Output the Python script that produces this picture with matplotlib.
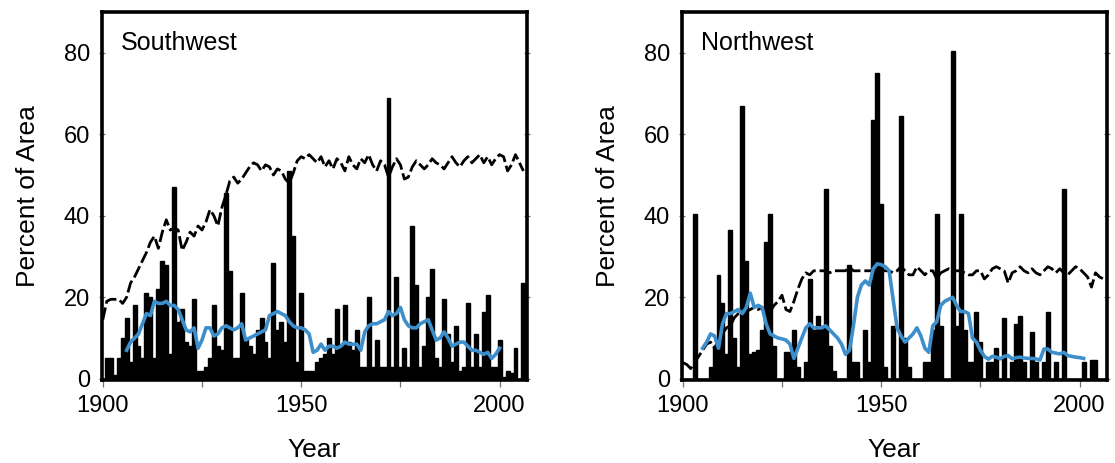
import numpy as np
import matplotlib
matplotlib.use("Agg")
import matplotlib.pyplot as plt
from matplotlib.ticker import MultipleLocator

plt.rcParams['font.family'] = ['Liberation Sans', 'DejaVu Sans']

years = np.arange(1900, 2007)

# yearly percent of area burned (bars)
sw_area = [0, 5, 5, 1, 5, 10, 15, 4, 18, 8,
           5, 21, 20, 5, 22, 29, 28, 6, 47, 14,
           17, 9, 8, 19.5, 2, 2, 3, 5, 18, 8,
           7, 45.5, 26.5, 5, 5, 21, 10, 8, 6, 12,
           15, 9, 5, 28.5, 12, 14, 9, 51, 35, 4,
           21, 2, 2, 2, 4, 5, 6, 10, 6, 17,
           8, 18, 9, 7, 12, 3, 3, 20, 3, 9.5,
           3, 3, 69, 3, 25, 3, 7.5, 3, 37.5, 23,
           3, 8, 20, 27, 5, 3, 19.5, 11, 4, 13,
           2, 3, 18.5, 3, 11, 3, 16.5, 20.5, 3, 3,
           9.5, 0.5, 2, 1.5, 7.5, 0, 23.5]
nw_area = [0, 0, 0, 40.5, 0, 0, 0, 3, 8, 25.5,
           18.5, 6, 36.5, 10, 3, 67, 29, 6, 6.5, 7,
           12, 33.5, 40.5, 8, 0, 0, 6.5, 6.5, 12, 3,
           0, 4, 24.5, 12, 15.5, 13, 46.5, 8, 2, 0,
           0, 0, 28, 4, 4, 0, 12, 4, 63.5, 75,
           43, 3, 0, 13, 0, 64.5, 10, 3, 0, 0,
           0, 4, 4, 12, 40.5, 13, 0, 0, 80.5, 13,
           40.5, 12, 4, 4, 16.5, 9, 0, 4, 4, 7.5,
           0, 15, 0, 4, 13.5, 15.5, 4, 0, 11.5, 4,
           0, 4, 16.5, 0, 4, 0, 46.5, 0, 0, 0,
           0, 4, 0, 4.5, 4.5, 0, 0]

# dashed series
sw_dash = [14.5, 19, 19.5, 19.5, 19.5, 18.5, 20, 23.5, 25, 27,
           29, 31, 33.5, 35, 32, 36, 39, 36.5, 37, 36.5,
           31.5, 33.5, 36, 35, 37.5, 36.5, 38.5, 41.5, 40, 37.5,
           42, 45, 48.5, 49.5, 48, 49, 50.5, 52, 53, 52.5,
           51, 52.5, 52, 50, 51.5, 51, 49, 48, 50.5, 53.5,
           54.5, 54, 55, 54, 53, 54.5, 52, 53.5, 51.5, 54,
           53, 51, 54.5, 52.5, 51.5, 54, 53, 55, 52.5, 51,
           53.5, 52.5, 49.5, 52, 54, 52.5, 49, 49.5, 52, 53.5,
           52.5, 51.5, 52.5, 54, 53, 52.5, 51.5, 53, 54.5, 53,
           52, 53.5, 54.5, 53, 54, 55, 53, 54.5, 52.5, 54,
           55, 54.5, 51, 52.5, 55, 53, 51]
nw_dash = [4, 3.5, 2.5, 4, 5.5, 7, 8.5, 9, 7.5, 9.5,
           11, 12.5, 13, 15, 16, 16.5, 16.5, 17, 17.5, 17,
           17.5, 16, 16.5, 18, 19, 20.5, 17, 16.5, 19, 22,
           24.5, 26, 25.5, 26.5, 26.5, 26.5, 26.5, 26, 26.5, 26.5,
           26.5, 26.5, 27.5, 26.5, 26.5, 26.5, 26.5, 26.5, 26.5, 26.5,
           26.5, 26.5, 26.5, 26, 26.5, 27.5, 26.5, 25.5, 25.5, 27.5,
           26.5, 25.5, 26.5, 26.5, 24.5, 26, 26.5, 27, 26.5, 26.5,
           26.5, 26, 25.5, 25.5, 26.5, 26.5, 24.5, 25.5, 27, 27.5,
           27, 26.5, 23.5, 26, 26.5, 27.5, 26.5, 26, 27, 26,
           25.5, 26.5, 27.5, 27, 26, 27, 26, 25.5, 26.5, 27.5,
           27, 26, 25, 22.5, 26, 25, 24.5]

# smoothed series (blue)
sw_smooth_years = np.arange(1906, 2001)
sw_smooth = [7, 9, 10, 11, 13.5, 16, 15.5, 19, 18.5, 18.5,
             19, 18, 18, 17, 14.5, 12, 11.5, 12.5, 7.5, 9.5,
             12.5, 12.5, 10.5, 11, 12.5, 13, 12.5, 12, 12.5, 13.5,
             9.5, 10, 10.5, 11, 11.5, 12, 15.5, 16, 16.5, 16,
             15.5, 14, 13, 12.5, 12.5, 12, 11, 6.5, 7, 8.5,
             7, 8, 8, 7.5, 8, 9, 8.5, 8.5, 8.5, 7,
             11.5, 13, 13.5, 13.5, 14, 14.5, 16.5, 15.5, 16, 17.5,
             14.5, 13, 12.5, 12.5, 13.5, 14, 14.5, 12, 9.5, 10,
             11.5, 10, 8, 8.5, 9, 9, 8, 7, 7, 6.5,
             6, 6.5, 5, 6, 7.5]
nw_smooth_years = np.arange(1905, 2002)
nw_smooth = [7.5, 9, 11, 10.5, 7.5, 13.5, 16, 16, 16.5, 17,
             16, 17.5, 21, 17.5, 18, 17.5, 13.5, 11, 10.5, 10,
             9.8, 9.5, 8.5, 5, 7.5, 10, 12.5, 13.5, 12.5, 12.5,
             12.5, 13, 12, 11, 10, 8.5, 6, 7, 13, 20,
             23, 24, 23, 27, 28.2, 28, 27.5, 26.5, 19.5, 12.5,
             10.5, 9, 10, 11, 12.5, 10.5, 7.5, 6.5, 13, 14,
             18, 19, 19.5, 20, 18, 16.5, 16.5, 16, 10, 9,
             7, 5.5, 4.8, 5.5, 5.3, 4.9, 5.5, 5.7, 4.9, 5.2,
             5.3, 5.1, 5, 5, 4.9, 4.6, 7.3, 7.3, 6.5, 6.3,
             6.1, 6.5, 5.7, 5.5, 5.3, 5.2, 5]

panels = [
    ("Southwest", sw_area, sw_dash, sw_smooth_years, sw_smooth),
    ("Northwest", nw_area, nw_dash, nw_smooth_years, nw_smooth),
]

W, H = 1115, 463
fig = plt.figure(figsize=(W / 100, H / 100), dpi=100)
lefts = [102, 682]
blue = "#3d8fcc"

for left, (name, area, dash, sy, sv) in zip(lefts, panels):
    ax = fig.add_axes([left / W, (H - 380) / H, 425 / W, 368 / H])
    ax.bar(years, area, width=1.0, color="black", edgecolor="black",
           linewidth=1.0, zorder=2)
    ax.plot(years, dash, color="black", lw=2.0, dashes=(4.5, 1.4), zorder=3)
    ax.plot(sy, sv, color=blue, lw=2.6, zorder=4, solid_joinstyle="round")

    ax.set_xlim(1899.8, 2006.9)
    ax.set_ylim(-0.3, 90)
    ax.set_xticks([1900, 1950, 2000])
    ax.xaxis.set_minor_locator(MultipleLocator(25))
    ax.set_yticks([0, 20, 40, 60, 80])
    for s in ax.spines.values():
        s.set_linewidth(2.6)
    ax.tick_params(axis="both", which="both", direction="out", length=5,
                   width=0.9, color="0.45", labelsize=17, pad=6)
    ax.tick_params(axis="y", right=True, direction="inout")
    ax.set_xlabel("Year", fontsize=19, labelpad=15)
    ax.set_ylabel("Percent of Area", fontsize=19, labelpad=17)
    ax.text(0.045, 0.915, name, transform=ax.transAxes, fontsize=18,
            va="center", ha="left")

fig.savefig("out.png", dpi=100)
